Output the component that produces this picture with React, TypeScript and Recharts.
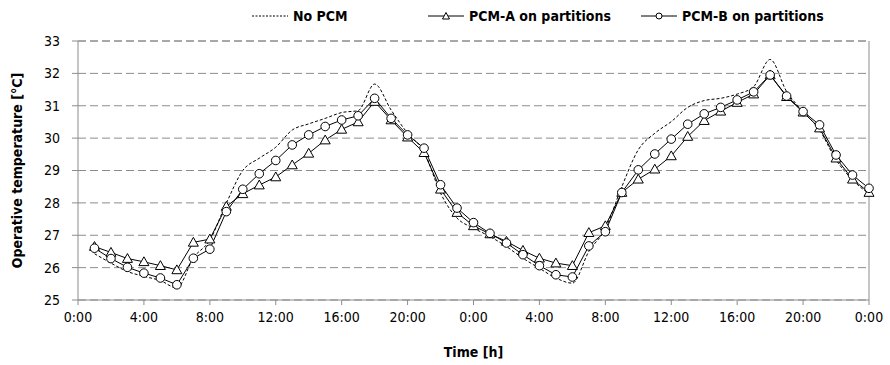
import React from "react";
import {
  LineChart,
  Line,
  XAxis,
  YAxis,
  CartesianGrid,
  ReferenceLine,
} from "recharts";

// hourly values, hour 1..48
const hours = [
  1, 2, 3, 4, 5, 6, 7, 8, 9, 10, 11, 12, 13, 14, 15, 16, 17, 18, 19, 20, 21, 22, 23, 24,
  25, 26, 27, 28, 29, 30, 31, 32, 33, 34, 35, 36, 37, 38, 39, 40, 41, 42, 43, 44, 45, 46, 47, 48,
];
const noPcm = [
  26.43, 26.14, 25.88, 25.73, 25.6, 25.37, 26.3, 26.85, 27.99, 29.0, 29.38, 29.72,
  30.25, 30.44, 30.61, 30.79, 30.85, 31.67, 30.87, 30.15, 29.58, 28.3, 27.53, 27.22,
  26.96, 26.65, 26.29, 25.98, 25.68, 25.52, 26.5, 27.2, 28.5, 29.64, 30.15, 30.51,
  30.95, 31.16, 31.23, 31.36, 31.59, 32.43, 31.44, 30.82, 30.25, 29.33, 28.71, 28.28,
];
const pcmA = [
  26.65, 26.47, 26.28, 26.18, 26.06, 25.93, 26.78, 26.88, 27.89, 28.28, 28.55, 28.8,
  29.17, 29.53, 29.94, 30.27, 30.5, 31.13, 30.56, 30.03, 29.55, 28.42, 27.7, 27.29,
  27.04, 26.81, 26.53, 26.29, 26.14, 26.06, 27.08, 27.29, 28.32, 28.73, 29.04, 29.45,
  30.05, 30.54, 30.83, 31.1, 31.36, 31.95, 31.28, 30.8, 30.31, 29.38, 28.73, 28.32,
];
const pcmB = [
  26.6, 26.28, 26.01, 25.83, 25.68, 25.47, 26.29, 26.57, 27.73, 28.42, 28.9, 29.31,
  29.79, 30.1, 30.36, 30.56, 30.69, 31.23, 30.61, 30.1, 29.69, 28.56, 27.84, 27.39,
  27.06, 26.76, 26.4, 26.06, 25.78, 25.71, 26.67, 27.11, 28.32, 29.02, 29.51, 29.97,
  30.43, 30.75, 30.95, 31.18, 31.43, 31.95, 31.3, 30.82, 30.41, 29.48, 28.86, 28.45,
];
const xTicks = [0, 4, 8, 12, 16, 20, 24, 28, 32, 36, 40, 44, 48];
const yTicks = [25, 26, 27, 28, 29, 30, 31, 32, 33];

const data = hours.map((h, i) => ({
  h,
  noPcm: noPcm[i],
  pcmA: pcmA[i],
  pcmB: pcmB[i],
}));

const FONT = "'DejaVu Sans Condensed', 'DejaVu Sans', sans-serif";
const GRAY = "#8c8c8c";

const Triangle = (props: any) => {
  const { cx, cy, index } = props;
  if (cx == null || cy == null) return null;
  return (
    <path
      key={`t-${index}`}
      d={`M${cx},${cy - 5}L${cx + 5},${cy + 3.8}L${cx - 5},${cy + 3.8}Z`}
      fill="#fff"
      stroke="#000"
      strokeWidth={1}
    />
  );
};

const Circle = (props: any) => {
  const { cx, cy, index } = props;
  if (cx == null || cy == null) return null;
  return <circle key={`c-${index}`} cx={cx} cy={cy} r={4.3} fill="#fff" stroke="#000" strokeWidth={1} />;
};

const YTitle = (props: any) => {
  const { x, y, height } = props.viewBox;
  const cx = x + 17;
  const cy = y + height / 2;
  return (
    <text
      x={cx}
      y={cy}
      transform={`rotate(-90 ${cx} ${cy})`}
      textAnchor="middle"
      dominantBaseline="central"
      fontFamily={FONT}
      fontSize={14}
      fontWeight="bold"
      fill="#000"
    >
      Operative temperature [°C]
    </text>
  );
};

const XTitle = (props: any) => {
  const { x, y, width } = props.viewBox;
  return (
    <text
      x={x + width / 2}
      y={y + 57}
      textAnchor="middle"
      fontFamily={FONT}
      fontSize={14}
      fontWeight="bold"
      fill="#000"
    >
      Time [h]
    </text>
  );
};

const LegendBox = () => {
  const item = (x: number, label: string, kind: string) => (
    <g key={label}>
      <line
        x1={x}
        x2={x + 36}
        y1={16}
        y2={16}
        stroke="#000"
        strokeWidth={1}
        strokeDasharray={kind === "dash" ? "2 1.5" : undefined}
      />
      {kind === "tri" && (
        <path d={`M${x + 18},${12.5}L${x + 21.5},${19}L${x + 14.5},${19}Z`} fill="#fff" stroke="#000" />
      )}
      {kind === "circ" && <circle cx={x + 18} cy={16} r={3} fill="#fff" stroke="#000" />}
      <text x={x + 41} y={21} fontFamily={FONT} fontSize={14} fontWeight="bold" fill="#000">
        {label}
      </text>
    </g>
  );
  return (
    <svg width={890} height={30} style={{ position: "absolute", left: 0, top: 0 }}>
      {item(252, "No PCM", "dash")}
      {item(428, "PCM-A on partitions", "tri")}
      {item(641, "PCM-B on partitions", "circ")}
    </svg>
  );
};

export default function App() {
  return (
    <div style={{ position: "absolute", left: 0, top: 0, width: 890, height: 365, background: "#fff" }}>
      <LineChart
        width={890}
        height={365}
        data={data}
        margin={{ top: 41, right: 21, bottom: 22, left: 0 }}
      >
        <CartesianGrid vertical={false} stroke={GRAY} strokeDasharray="8 4" />
        <XAxis
          dataKey="h"
          type="number"
          domain={[0, 48]}
          ticks={xTicks}
          tickFormatter={(v: number) => `${v % 24}:00`}
          stroke={GRAY}
          tick={{ fill: "#000", fontFamily: FONT, fontSize: 14 }}
          tickSize={5}
          tickMargin={7}
          height={43}
          label={<XTitle />}
        />
        <YAxis
          type="number"
          domain={[25, 33]}
          ticks={yTicks}
          stroke={GRAY}
          tick={{ fill: "#000", fontFamily: FONT, fontSize: 14 }}
          tickSize={6}
          tickMargin={12}
          width={78}
          label={<YTitle />}
        />
        <ReferenceLine x={48} stroke={GRAY} strokeWidth={1} />
        <ReferenceLine y={33} stroke={GRAY} strokeWidth={1} strokeDasharray="8 4" />
        <Line
          type="monotone"
          dataKey="noPcm"
          stroke="#000"
          strokeWidth={1}
          strokeDasharray="3 2"
          dot={false}
          activeDot={false}
          isAnimationActive={false}
        />
        <Line
          type="linear"
          dataKey="pcmA"
          stroke="#000"
          strokeWidth={1}
          dot={Triangle}
          activeDot={false}
          isAnimationActive={false}
        />
        <Line
          type="linear"
          dataKey="pcmB"
          stroke="#000"
          strokeWidth={1}
          dot={Circle}
          activeDot={false}
          isAnimationActive={false}
        />
      </LineChart>
      <LegendBox />
    </div>
  );
}
